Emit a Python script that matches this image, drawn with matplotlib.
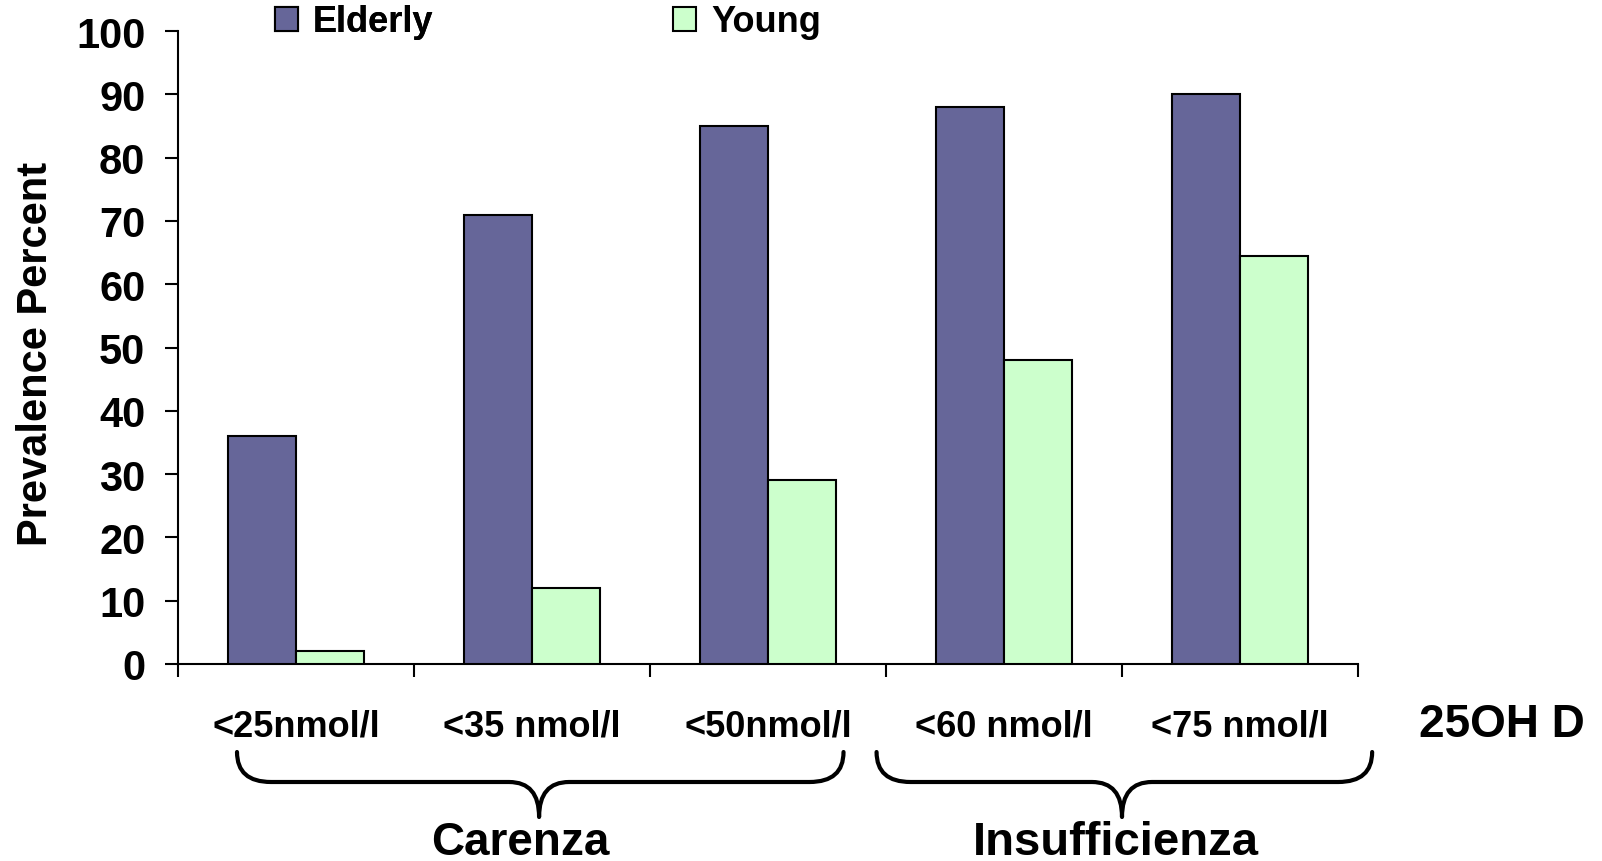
import matplotlib
matplotlib.use("Agg")
import matplotlib.pyplot as plt
from matplotlib.path import Path
from matplotlib.patches import PathPatch
import matplotlib.transforms as mtransforms
import numpy as np

categories = ["<25nmol/l", "<35 nmol/l", "<50nmol/l", "<60 nmol/l", "<75 nmol/l"]
elderly = [36, 71, 85, 88, 90]
young = [2, 12, 29, 48, 64.5]
series_names = ["Elderly", "Young"]
yticks = [0, 10, 20, 30, 40, 50, 60, 70, 80, 90, 100]
groups = ["Carenza", "Insufficienza"]

plt.rcParams['font.family'] = ['Liberation Sans', 'DejaVu Sans']
plt.rcParams['font.weight'] = 'bold'

W, H = 1602, 862
fig = plt.figure(figsize=(W / 100, H / 100), dpi=100)
ax = fig.add_axes([178 / W, 1 - 665 / H, (1358 - 178) / W, (665 - 32) / H])

x = np.arange(len(categories))
bw = 0.288
b1 = ax.bar(x - bw / 2, elderly, bw, color="#666699", edgecolor="black", linewidth=1.5, zorder=3)
b2 = ax.bar(x + bw / 2, young, bw, color="#CCFFCC", edgecolor="black", linewidth=1.5, zorder=3)

ax.set_xlim(-0.5, len(categories) - 0.5)
ax.set_ylim(0, 100)
ax.set_yticks(yticks)
ax.set_yticklabels([str(v) for v in yticks], fontsize=30, fontweight='bold')
ax.tick_params(axis='y', direction='out', length=9.5, width=1.5, pad=14)

ax.set_xticks(x)
ax.set_xticklabels(categories, fontsize=26, fontweight='bold')
ax.tick_params(axis='x', which='major', length=0, pad=32)
ax.set_xticks(np.arange(len(categories) + 1) - 0.5, minor=True)
ax.tick_params(axis='x', which='minor', direction='out', length=9, width=1.5)

for s in ['top', 'right']:
    ax.spines[s].set_visible(False)
for s in ['left', 'bottom']:
    ax.spines[s].set_linewidth(1.5)

fig.text(36 / W, 1 - 354 / H, "Prevalence Percent", rotation=90, ha='center', va='center',
         fontsize=30, fontweight='bold')

fig.text(1419 / W, 1 - 737 / H, "25OH D", ha='left', va='baseline', fontsize=33, fontweight='bold')

# legends
leg_kw = dict(loc='center left', frameon=False, borderpad=0, borderaxespad=0, handlelength=0.65,
              handleheight=0.65, handletextpad=0.4, prop={'size': 26, 'weight': 'bold'})
leg1 = fig.legend([b1], [series_names[0]], bbox_to_anchor=(275 / W, 1 - 23 / H), **leg_kw)
leg2 = fig.legend([b2], [series_names[1]], bbox_to_anchor=(673 / W, 1 - 23 / H), **leg_kw)
fig.add_artist(leg1)

# braces: x in data units, y in axes fraction
trans = mtransforms.blended_transform_factory(ax.transData, ax.transAxes)
px_x = 1.0 / 236.0   # data units per pixel (x)
px_y = 1.0 / 633.0   # axes units per pixel (y)
y_top = -(753 - 665) * px_y
y_line = -(783 - 665) * px_y
y_tip = -(818 - 665) * px_y

def brace(xl, xc, xr):
    r = 34 * px_x
    r2 = 30 * px_x
    verts = [
        (xl, y_top), (xl, y_line), (xl + r, y_line),
        (xc - r2, y_line),
        (xc, y_line), (xc, y_tip),
        (xc, y_line), (xc + r2, y_line),
        (xr - r, y_line),
        (xr, y_line), (xr, y_top),
    ]
    codes = [Path.MOVETO, Path.CURVE3, Path.CURVE3, Path.LINETO,
             Path.CURVE3, Path.CURVE3, Path.CURVE3, Path.CURVE3,
             Path.LINETO, Path.CURVE3, Path.CURVE3]
    p = PathPatch(Path(verts, codes), facecolor='none', edgecolor='black', linewidth=3,
                  transform=trans, clip_on=False, capstyle='round', joinstyle='round')
    ax.add_patch(p)

brace(-0.25, 1.03, 2.32)
brace(2.46, 3.5, 4.56)

fig.text(520 / W, 1 - 855 / H, groups[0], ha='center', va='baseline', fontsize=33, fontweight='bold')
fig.text(1116 / W, 1 - 855 / H, groups[1], ha='center', va='baseline', fontsize=34, fontweight='bold')

fig.savefig("out.png", dpi=100)
